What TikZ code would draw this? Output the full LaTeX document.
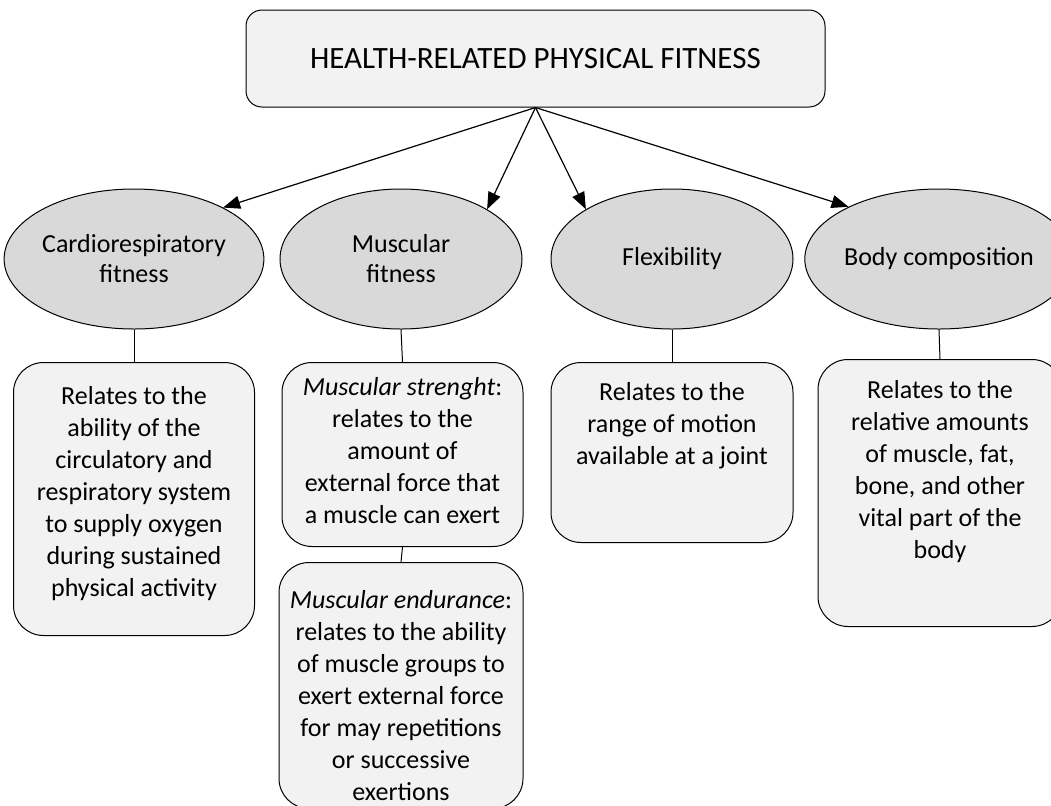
\documentclass[tikz,border=0pt]{standalone}
\usepackage{fontspec}
\setmainfont{Carlito}
\usetikzlibrary{shapes.geometric,arrows.meta}
\definecolor{boxgray}{HTML}{F2F2F2}
\definecolor{ovalgray}{HTML}{D9D9D9}
% box text: height, width, top pad, text
\newcommand{\boxtext}[4]{\parbox[c][#1][t]{#2}{\centering\vspace*{#3}#4}}

\begin{document}
\begin{tikzpicture}[x=0.5pt,y=-0.5pt]
		\tikzstyle{every node}+=[inner sep=0pt, font=\fontsize{13}{16}\selectfont]
		\tikzstyle{headbox}=[draw, line width=0.5pt, rounded corners=8pt, fill=boxgray, minimum width=289.5pt, minimum height=48.5pt, font=\fontsize{15.5}{18}\selectfont]
		\tikzstyle{oval}=[draw, line width=0.5pt, ellipse, fill=ovalgray, minimum width=121pt, minimum height=70pt, align=center, font=\fontsize{13}{15}\selectfont]
		\tikzstyle{infobox}=[draw, line width=0.5pt, rounded corners=15pt, fill=boxgray, anchor=north]
		\tikzstyle{fitarrow}=[-{Triangle[length=8.5pt,width=6.5pt]}, line width=0.6pt]
		\useasboundingbox (0,0) rectangle (1051,805);
		% top
		\node [headbox] (top) at (535.5,58.5) {HEALTH-RELATED PHYSICAL FITNESS};
		% components
		\node [oval] (cardio) at (134,259) {Cardiorespiratory\\fitness};
		\node [oval] (musc) at (401,259) {Muscular\\fitness};
		\node [oval] (flex) at (672,259) {Flexibility};
		\node [oval] (body) at (939,259) {Body composition};
		\draw [fitarrow] (top.south) -- (cardio.30);
		\draw [fitarrow] (top.south) -- (musc.30);
		\draw [fitarrow] (top.south) -- (flex.150);
		\draw [fitarrow] (top.south) -- (body.150);
		% descriptions
		\node [infobox] (cardiotxt) at (134,362) {\boxtext{136.5pt}{120.5pt}{12pt}{Relates to the\\ability of the\\circulatory and\\respiratory system\\to supply oxygen\\during sustained\\physical activity}};
		\node [infobox] (strength) at (402.5,362) {\boxtext{92pt}{120.5pt}{7.5pt}{\textit{Muscular strenght}:\\relates to the\\amount of\\external force that\\a muscle can exert}};
		\node [infobox] (endur) at (401,562) {\boxtext{123pt}{122pt}{14pt}{\textit{Muscular endurance}:\\relates to the ability\\of muscle groups to\\exert external force\\for may repetitions\\or successive\\exertions}};
		\node [infobox] (flextxt) at (672,362) {\boxtext{90pt}{121pt}{10pt}{Relates to the\\range of motion\\available at a joint}};
		\node [infobox] (bodytxt) at (940,359) {\boxtext{133.5pt}{122pt}{10.5pt}{Relates to the\\relative amounts\\of muscle, fat,\\bone, and other\\vital part of the\\body}};
		\draw [line width=0.5pt] (cardio.south) -- (cardiotxt.north);
		\draw [line width=0.5pt] (musc.south) -- (strength.north);
		\draw [line width=0.5pt] (strength.south) -- (endur.north);
		\draw [line width=0.5pt] (flex.south) -- (flextxt.north);
		\draw [line width=0.5pt] (body.south) -- (bodytxt.north);
	\end{tikzpicture}
\end{document}
